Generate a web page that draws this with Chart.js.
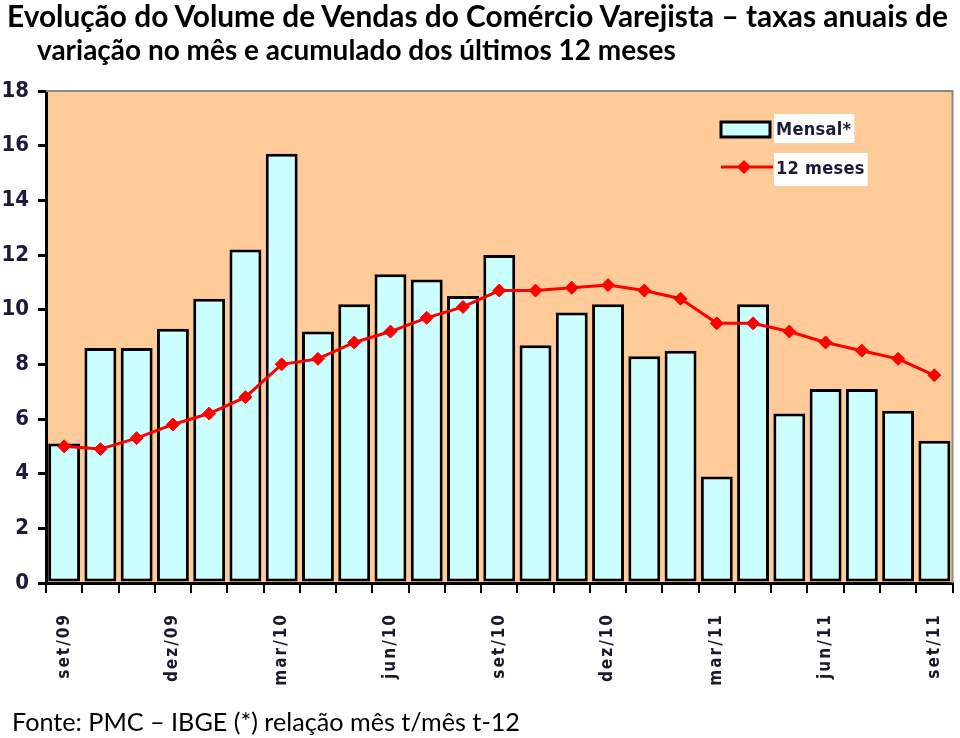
<!DOCTYPE html>
<html>
<head>
<meta charset="utf-8">
<script src="https://cdn.jsdelivr.net/npm/chart.js@4.4.1/dist/chart.umd.min.js"></script>
<style>
  html, body { margin: 0; padding: 0; background: #fff; }
  #wrap { position: relative; width: 960px; height: 738px; overflow: hidden; }
  #chart { position: absolute; left: 0; top: 0; }
  .txt { position: absolute; white-space: nowrap; color: #000; font-family: Lato, "Liberation Sans", sans-serif; line-height: 1; }
  .title { font-weight: bold; }
</style>
</head>
<body>
<div id="wrap">
  <canvas id="chart" width="960" height="738"></canvas>
  <div class="txt title" id="t1" data-w="941" style="left:7px; top:1px;">Evolução do Volume de Vendas do Comércio Varejista – taxas anuais de</div>
  <div class="txt title" id="t2" data-w="639" style="left:37px; top:35px;">variação no mês e acumulado dos últimos 12 meses</div>
  <div class="txt" id="foot" data-w="508" style="left:12px; top:709px;">Fonte: PMC – IBGE (*) relação mês t/mês t-12</div>
</div>
<script>
// chart data (monthly retail volume change, %)
const months = ['set/09', 'out/09', 'nov/09', 'dez/09', 'jan/10', 'fev/10', 'mar/10', 'abr/10', 'mai/10',
  'jun/10', 'jul/10', 'ago/10', 'set/10', 'out/10', 'nov/10', 'dez/10', 'jan/11', 'fev/11', 'mar/11',
  'abr/11', 'mai/11', 'jun/11', 'jul/11', 'ago/11', 'set/11'];
const mensal = [5.1, 8.6, 8.6, 9.3, 10.4, 12.2, 15.7, 9.2, 10.2, 11.3, 11.1, 10.5, 12.0,
  8.7, 9.9, 10.2, 8.3, 8.5, 3.9, 10.2, 6.2, 7.1, 7.1, 6.3, 5.2];
const dozeMeses = [5.0, 4.9, 5.3, 5.8, 6.2, 6.8, 8.0, 8.2, 8.8, 9.2, 9.7, 10.1, 10.7,
  10.7, 10.8, 10.9, 10.7, 10.4, 9.5, 9.5, 9.2, 8.8, 8.5, 8.2, 7.6];
const yTicks = [0, 2, 4, 6, 8, 10, 12, 14, 16, 18];
const seriesNames = ['Mensal*', '12 meses'];

// size the html texts to the widths they have in the original
document.querySelectorAll('.txt').forEach(el => {
  el.style.fontSize = '100px';
  const w = el.getBoundingClientRect().width;
  el.style.fontSize = (100 * el.dataset.w / w).toFixed(2) + 'px';
});

const narrow = '"Liberation Sans Narrow", "Arial Narrow", "DejaVu Sans Condensed", sans-serif';

const plotBackground = {
  id: 'plotBackground',
  beforeUpdate(chart) {
    chart.ctx.letterSpacing = '2px';
  },
  beforeDraw(chart) {
    const { ctx, chartArea } = chart;
    ctx.letterSpacing = '2px'; // x labels (drawn before the datasets)
    ctx.save();
    ctx.fillStyle = '#FFCC99';
    ctx.fillRect(chartArea.left, chartArea.top, chartArea.right - chartArea.left, chartArea.bottom - chartArea.top);
    ctx.restore();
  },
  afterDatasetsDraw(chart) {
    chart.ctx.letterSpacing = '0px'; // y labels (ticks z = 1)
  },
  afterDraw(chart) {
    const { ctx, chartArea } = chart;
    ctx.save();
    ctx.strokeStyle = '#8a8a8a';
    ctx.lineWidth = 2;
    ctx.beginPath();
    ctx.moveTo(chartArea.left, chartArea.top);
    ctx.lineTo(chartArea.right, chartArea.top);
    ctx.lineTo(chartArea.right, chartArea.bottom);
    ctx.stroke();

    // legend box inside the plot, top right
    ctx.letterSpacing = '0.3px';
    ctx.font = 'bold 18px ' + narrow;
    ctx.textBaseline = 'middle';
    const lx = 721, ly1 = 129, ly2 = 167;
    ctx.fillStyle = '#fff';
    ctx.fillRect(774, 114, ctx.measureText(seriesNames[0]).width + 5, 29);
    ctx.fillRect(774, 153, ctx.measureText(seriesNames[1]).width + 5, 33);
    ctx.fillStyle = '#CCFFFF';
    ctx.strokeStyle = '#000';
    ctx.lineWidth = 3;
    ctx.fillRect(lx, ly1 - 7, 49, 15);
    ctx.strokeRect(lx, ly1 - 7, 49, 15);
    ctx.strokeStyle = '#FF0000';
    ctx.lineWidth = 3;
    ctx.beginPath();
    ctx.moveTo(lx, ly2);
    ctx.lineTo(lx + 52, ly2);
    ctx.stroke();
    ctx.fillStyle = '#FF0000';
    ctx.beginPath();
    ctx.moveTo(lx + 23, ly2 - 7);
    ctx.lineTo(lx + 30, ly2);
    ctx.lineTo(lx + 23, ly2 + 7);
    ctx.lineTo(lx + 16, ly2);
    ctx.closePath();
    ctx.fill();
    ctx.fillStyle = '#1a1a3a';
    ctx.fillText(seriesNames[0], 776, ly1 + 1);
    ctx.fillText(seriesNames[1], 776, ly2 + 2);
    ctx.restore();
  }
};

const ctx = document.getElementById('chart').getContext('2d');
const chart = new Chart(ctx, {
  type: 'bar',
  data: {
    labels: months,
    datasets: [
      {
        type: 'line',
        label: seriesNames[1],
        data: dozeMeses,
        borderColor: '#FF0000',
        backgroundColor: '#FF0000',
        borderWidth: 3,
        pointStyle: 'rectRot',
        pointRadius: 6.5,
        pointBorderWidth: 1,
        tension: 0,
        order: 0
      },
      {
        type: 'bar',
        label: seriesNames[0],
        data: mensal,
        backgroundColor: '#CCFFFF',
        borderColor: '#000',
        borderWidth: 3,
        borderSkipped: false,
        categoryPercentage: 1,
        barPercentage: 0.88,
        order: 1
      }
    ]
  },
  options: {
    responsive: false,
    animation: false,
    devicePixelRatio: 1,
    layout: { padding: { left: 0, right: -3, top: 91, bottom: 0 } },
    plugins: {
      legend: { display: false },
      tooltip: { enabled: false }
    },
    scales: {
      x: {
        offset: true,
        grid: {
          offset: true,
          drawOnChartArea: false,
          drawTicks: true,
          tickLength: 10,
          color: '#000',
          lineWidth: 2
        },
        border: { color: '#000', width: 3 },
        ticks: {
          autoSkip: false,
          maxRotation: 90,
          minRotation: 90,
          padding: 20,
          color: '#1a1a2a',
          font: { family: narrow, size: 17, weight: 'bold' },
          callback: function (value, index) {
            return index % 3 === 0 ? months[index] : '';
          }
        },
        afterFit: function (scale) {
          scale.height = 155;
          scale.paddingLeft = 0;
          scale.paddingRight = 0;
        }
      },
      y: {
        min: 0,
        max: 18,
        afterBuildTicks: function (scale) {
          scale.ticks = yTicks.map(v => ({ value: v }));
        },
        grid: {
          drawOnChartArea: false,
          drawTicks: true,
          tickLength: 8,
          color: '#000',
          lineWidth: 3
        },
        border: { color: '#000', width: 3 },
        ticks: {
          z: 1,
          padding: 9,
          color: '#1a1a3a',
          font: { family: narrow, size: 22, weight: 'bold' }
        },
        afterFit: function (scale) { scale.width = 46; }
      }
    }
  },
  plugins: [plotBackground]
});
</script>
</body>
</html>
